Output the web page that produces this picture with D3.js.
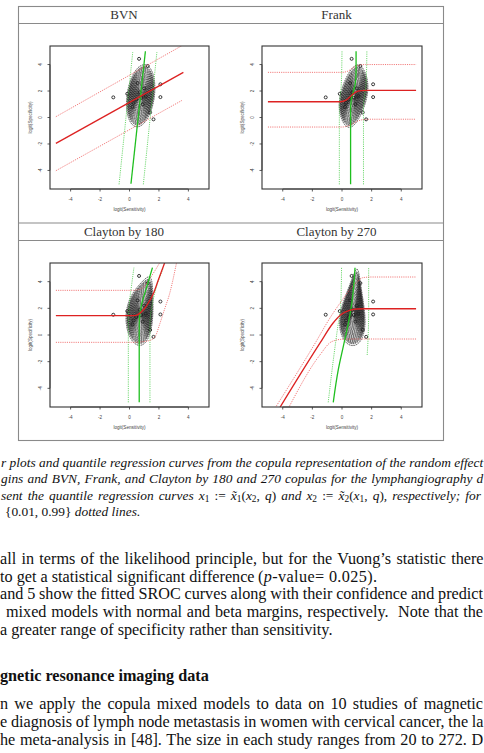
<!DOCTYPE html>
<html><head><meta charset="utf-8">
<script src="https://cdn.jsdelivr.net/npm/d3@7/dist/d3.min.js"></script>
<style>html,body{margin:0;padding:0;background:#fff;}svg{display:block;}</style>
</head><body>
<svg id="page" width="484" height="753"></svg>
<script>
// ================= DATA =================
const panelTitles = ["BVN", "Frank", "Clayton by 180", "Clayton by 270"];
const tickValues = [-4, -2, 0, 2, 4];
const axisRange = [-5.4, 5.4];
const xAxisTitle = "logit(Sensitivity)";
const yAxisTitle = "logit(Specificity)";

// study points (logit sensitivity, logit specificity)
const studyLogitSens = [0.65, 1.24, 2.10, 2.10, -1.10, -0.15, 1.40, 1.63, 0.27, 0.45, 0.70, 0.90, 0.55, 1.00, 0.20, 0.80, 1.10];
const studyLogitSpec = [4.43, 3.89, 2.51, 1.54, 1.52, 1.79, 0.38, -0.14, 1.10, 1.35, 1.90, 1.00, 2.60, 2.20, 0.80, 1.50, 1.60];

// fitted model used for the density contours of each panel
const copulaFamilies = ["normal", "frank", "clayton180", "clayton180"];
const copulaParams   = [0.25, 2.6, 0.45, 0.8];
const copulaTurnDeg  = [0, 0, 15, 35];
const marginMeanSens = [0.75, 0.77, 0.74, 0.74];
const marginMeanSpec = [1.63, 1.60, 1.62, 1.62];
const marginSdSens   = [0.37, 0.37, 0.39, 0.41];
const marginSdSpec   = [0.90, 0.90, 0.90, 0.88];
// contour levels as fractions of the peak density
const contourLevels  = [0.980,0.962,0.937,0.908,0.874,0.835,0.793,0.749,0.703,0.655,0.607,0.558,0.510,0.463,0.418,0.375,0.334,0.296,0.261,0.228,0.198,0.171,0.146,0.125,0.106,0.089,0.074,0.062,0.051,0.034];

// quantile regression curves  [logitSens, logitSpec]
// BVN
const bvnRedMedian = [[-5.0,-1.95],[3.66,3.41]];
const bvnRedLow    = [[-5.0,-4.02],[3.61,1.32]];
const bvnRedHigh   = [[-5.0,0.06],[3.60,5.45]];
const bvnGreenMedian = [[0.10,-5.0],[1.08,5.0]];
const bvnGreenLow    = [[-0.71,-5.05],[0.22,4.93]];
const bvnGreenHigh   = [[0.94,-5.05],[1.86,4.93]];
// Frank
const frankRedMedian = [[-5.0,1.19],[-0.1,1.19],[0.3,1.33],[0.6,1.63],[0.9,1.90],[1.3,2.03],[1.8,2.05],[5.0,2.05]];
const frankRedLow    = [[-5.0,-0.72],[0.0,-0.72],[0.5,-0.60],[1.0,-0.30],[1.5,-0.15],[2.0,-0.13],[5.0,-0.13]];
const frankRedHigh   = [[-5.0,3.41],[0.0,3.41],[0.4,3.50],[0.8,3.80],[1.2,3.97],[1.6,4.00],[5.0,4.00]];
const frankGreenMedian = [[0.58,-5.05],[0.58,0.5],[0.62,1.3],[0.75,1.9],[0.90,2.6],[0.95,3.5],[0.95,5.0]];
const frankGreenLow    = [[-0.18,-5.05],[-0.18,0.8],[-0.05,2.5],[0.0,5.0]];
const frankGreenHigh   = [[1.45,-5.05],[1.45,0.8],[1.62,2.5],[1.68,5.0]];
// Clayton by 180
const c180RedMedian = [[-5.0,1.45],[0.3,1.45],[0.6,1.55],[0.85,1.78],[1.1,2.10],[1.3,2.45],[1.6,3.05],[1.95,4.10],[2.4,5.45]];
const c180RedLow    = [[-5.0,-0.55],[0.4,-0.55],[0.9,-0.50],[1.4,-0.40],[1.75,-0.10],[2.07,0.88],[2.4,2.0],[2.7,3.0],[3.2,5.45]];
const c180RedHigh   = [[-5.0,3.35],[0.2,3.35],[0.6,3.40],[0.95,3.60],[1.2,3.95],[1.6,4.60],[2.07,5.45]];
const c180GreenMedian = [[0.66,-5.05],[0.66,0.8],[0.70,1.5],[0.80,2.2],[0.95,2.8],[1.25,3.9],[1.56,5.05]];
const c180GreenLow    = [[-0.08,-5.05],[-0.08,1.0],[0.0,2.5],[0.15,3.8],[0.30,5.05]];
const c180GreenHigh   = [[1.39,-5.05],[1.39,0.8],[1.50,2.0],[1.80,3.5],[2.30,5.05]];
// Clayton by 270
const c270RedMedian = [[-4.2,-5.45],[-1.5,-0.63],[-0.6,0.90],[-0.1,1.50],[0.5,1.85],[1.0,1.95],[1.5,1.97],[5.0,1.97]];
const c270RedLow    = [[-3.6,-5.45],[-1.5,-1.51],[-0.7,-0.50],[0.0,-0.32],[1.0,-0.30],[5.0,-0.30]];
const c270RedHigh   = [[-4.5,-5.45],[-1.8,-0.59],[-0.8,1.30],[0.0,2.60],[0.6,3.50],[1.0,3.95],[1.4,4.30],[2.0,4.35],[5.0,4.35]];
const c270GreenMedian = [[-0.59,-5.05],[-0.25,-2.6],[0.10,-0.8],[0.45,1.0],[0.65,2.3],[0.80,3.8],[0.88,5.05]];
const c270GreenLow    = [[-0.93,-5.05],[-0.60,-2.0],[-0.30,0.5],[-0.10,2.0],[-0.05,3.5],[-0.03,5.05]];
const c270GreenHigh   = [[1.70,-1.5],[1.77,0.0],[1.80,2.0],[1.80,5.05]];

const redMedians   = [bvnRedMedian, frankRedMedian, c180RedMedian, c270RedMedian];
const redLows      = [bvnRedLow, frankRedLow, c180RedLow, c270RedLow];
const redHighs     = [bvnRedHigh, frankRedHigh, c180RedHigh, c270RedHigh];
const greenMedians = [bvnGreenMedian, frankGreenMedian, c180GreenMedian, c270GreenMedian];
const greenLows    = [bvnGreenLow, frankGreenLow, c180GreenLow, c270GreenLow];
const greenHighs   = [bvnGreenHigh, frankGreenHigh, c180GreenHigh, c270GreenHigh];

// ================= LAYOUT =================
const W = 484, H = 753;
const svg = d3.select("#page");
svg.append("rect").attr("width", W).attr("height", H).attr("fill", "#fff");

const frameL = 18.5, frameR = 443.5, frameT = 6.5, frameB = 440.5;
const colBox = [[50, 209], [262, 422]];
const rowBox = [[46, 189], [263, 407]];
const rowTitleBase = [18.6, 235.6];
const colCenter = [124, 336.5];

const frame = svg.append("g").attr("stroke", "#8a8a8a").attr("stroke-width", 1.1).attr("fill", "none");
frame.append("rect").attr("x", frameL).attr("y", frameT).attr("width", frameR - frameL).attr("height", frameB - frameT);
[23.5, 223, 240.5].forEach(y => frame.append("line").attr("x1", frameL).attr("x2", frameR).attr("y1", y).attr("y2", y));

// ---------- density helpers ----------
function erfc(x) {
  const t = 1 / (1 + 0.3275911 * x);
  return t * (0.254829592 + t * (-0.284496736 + t * (1.421413741 + t * (-1.453152027 + t * 1.061405429)))) * Math.exp(-x * x);
}
function Phi(z) { return z < 0 ? 0.5 * erfc(-z / Math.SQRT2) : 1 - 0.5 * erfc(z / Math.SQRT2); }
function phi(z) { return Math.exp(-z * z / 2); }
const clampU = u => Math.min(1 - 1e-12, Math.max(1e-12, u));
function claytonDens(a, b, th) {
  a = clampU(a); b = clampU(b);
  return (1 + th) * Math.pow(a * b, -th - 1) * Math.pow(Math.pow(a, -th) + Math.pow(b, -th) - 1, -2 - 1 / th);
}
function copulaDensity(fam, th, z1, z2) {
  if (fam === "normal") {
    const r = th;
    return Math.exp(-(r * r * (z1 * z1 + z2 * z2) - 2 * r * z1 * z2) / (2 * (1 - r * r))) / Math.sqrt(1 - r * r);
  }
  if (fam === "frank") {
    const u = Phi(z1), v = Phi(z2);
    const e = 1 - Math.exp(-th);
    const den = e - (1 - Math.exp(-th * u)) * (1 - Math.exp(-th * v));
    return th * e * Math.exp(-th * (u + v)) / (den * den);
  }
  if (fam === "clayton180") return claytonDens(Phi(-z1), Phi(-z2), th);
  return 1;
}

const gx0 = -2.2, gy0 = -3.8, gStep = 0.02, gnx = 310, gny = 570;

for (let p = 0; p < 4; p++) {
  const col = p % 2, row = Math.floor(p / 2);
  const [bx0, bx1] = colBox[col], [by0, by1] = rowBox[row];
  const xs = d3.scaleLinear().domain(axisRange).range([bx0, bx1]);
  const ys = d3.scaleLinear().domain(axisRange).range([by1, by0]);
  const g = svg.append("g");

  g.append("text").attr("x", colCenter[col]).attr("y", rowTitleBase[row])
    .attr("text-anchor", "middle").attr("font-family", "Liberation Serif").attr("font-size", 13)
    .attr("fill", "#333").text(panelTitles[p]);

  const clipId = "clip" + p;
  g.append("clipPath").attr("id", clipId).append("rect")
    .attr("x", bx0).attr("y", by0).attr("width", bx1 - bx0).attr("height", by1 - by0);
  const inner = g.append("g").attr("clip-path", `url(#${clipId})`);

  // density contours
  const values = new Float64Array(gnx * gny);
  const ang = copulaTurnDeg[p] * Math.PI / 180, ca = Math.cos(ang), sa = Math.sin(ang);
  let vmax = 0;
  for (let j = 0; j < gny; j++) {
    for (let i = 0; i < gnx; i++) {
      const x = gx0 + i * gStep, y = gy0 + j * gStep;
      const s1 = (x - marginMeanSens[p]) / marginSdSens[p];
      const s2 = (y - marginMeanSpec[p]) / marginSdSpec[p];
      const z1 = ca * s1 + sa * s2, z2 = -sa * s1 + ca * s2;
      let v = copulaDensity(copulaFamilies[p], copulaParams[p], z1, z2) * phi(z1) * phi(z2);
      if (!isFinite(v)) v = 0;
      values[i + j * gnx] = v;
      if (v > vmax) vmax = v;
    }
  }
  const conts = d3.contours().size([gnx, gny]).thresholds(contourLevels.map(l => l * vmax))(values);
  const proj = d3.geoTransform({ point: function (x, y) { this.stream.point(xs(gx0 + x * gStep), ys(gy0 + y * gStep)); } });
  const gp = d3.geoPath(proj);
  inner.append("g").selectAll("path").data(conts).join("path")
    .attr("d", gp).attr("fill", "none").attr("stroke", "#000")
    .attr("stroke-width", 0.7).attr("stroke-dasharray", "1.6,0.7");

  // study points
  inner.append("g").selectAll("circle").data(studyLogitSens.map((d, i) => [d, studyLogitSpec[i]])).join("circle")
    .attr("cx", d => xs(d[0])).attr("cy", d => ys(d[1])).attr("r", 1.5)
    .attr("fill", "none").attr("stroke", "#222").attr("stroke-width", 0.9);

  // quantile regression curves
  const lx = d3.line().x(d => xs(d[0])).y(d => ys(d[1])).curve(d3.curveMonotoneX);
  const ly = d3.line().x(d => xs(d[0])).y(d => ys(d[1])).curve(d3.curveMonotoneY);
  const dotted = "1.1,1.1";
  [greenLows[p], greenHighs[p]].forEach(c => inner.append("path").attr("d", ly(c)).attr("fill", "none")
    .attr("stroke", "#44cc44").attr("stroke-width", 0.8).attr("stroke-dasharray", dotted));
  [redLows[p], redHighs[p]].forEach(c => inner.append("path").attr("d", lx(c)).attr("fill", "none")
    .attr("stroke", "#ee5555").attr("stroke-width", 0.8).attr("stroke-dasharray", dotted));
  inner.append("path").attr("d", ly(greenMedians[p])).attr("fill", "none").attr("stroke", "#1fbf1f").attr("stroke-width", 1.3);
  inner.append("path").attr("d", lx(redMedians[p])).attr("fill", "none").attr("stroke", "#dd2222").attr("stroke-width", 1.3);

  // box
  g.append("rect").attr("x", bx0).attr("y", by0).attr("width", bx1 - bx0).attr("height", by1 - by0)
    .attr("fill", "none").attr("stroke", "#333").attr("stroke-width", 1.1);

  // axes (R style)
  const ax = g.append("g").attr("stroke", "#333").attr("stroke-width", 0.8);
  ax.append("line").attr("x1", xs(tickValues[0])).attr("x2", xs(tickValues[tickValues.length - 1])).attr("y1", by1).attr("y2", by1);
  ax.selectAll(".xt").data(tickValues).join("line").attr("x1", d => xs(d)).attr("x2", d => xs(d)).attr("y1", by1).attr("y2", by1 + 2.5);
  ax.append("line").attr("y1", ys(tickValues[0])).attr("y2", ys(tickValues[tickValues.length - 1])).attr("x1", bx0).attr("x2", bx0);
  ax.selectAll(".yt").data(tickValues).join("line").attr("y1", d => ys(d)).attr("y2", d => ys(d)).attr("x1", bx0).attr("x2", bx0 - 2.5);

  const tf = { "font-family": "Liberation Sans", "font-size": 4.6, "fill": "#444" };
  const setF = s => { Object.entries(tf).forEach(([k, v]) => s.attr(k, v)); return s; };
  setF(g.append("g").selectAll("text").data(tickValues).join("text")
    .attr("x", d => xs(d)).attr("y", by1 + 11.5).attr("text-anchor", "middle").text(d => d));
  setF(g.append("g").selectAll("text").data(tickValues).join("text")
    .attr("transform", d => `translate(${bx0 - 8.5},${ys(d)}) rotate(-90)`).attr("text-anchor", "middle").text(d => d));
  setF(g.append("text").attr("x", (bx0 + bx1) / 2).attr("y", by1 + 21.5).attr("text-anchor", "middle").text(xAxisTitle));
  setF(g.append("text").attr("transform", `translate(${bx0 - 18.5},${(by0 + by1) / 2}) rotate(-90)`).attr("text-anchor", "middle").text(yAxisTitle));
}

// ================= CAPTION & BODY TEXT =================
function rich(x, y, size, segs, base) {
  const t = svg.append("text").attr("x", x).attr("y", y).attr("font-family", "Liberation Serif")
    .attr("font-size", size).attr("fill", "#111").attr("xml:space", "preserve");
  if (base === "i") t.attr("font-style", "italic");
  if (base === "b") t.attr("font-weight", "bold");
  let off = 0;
  segs.forEach(([str, st]) => {
    const ts = t.append("tspan").text(str);
    let target = 0;
    if (st && st.includes("r")) ts.attr("font-style", "normal");
    if (st && st.includes("i")) ts.attr("font-style", "italic");
    if (st && st.includes("s")) { ts.attr("font-size", size * 0.7); target = size * 0.22; }
    if (target !== off) { ts.attr("dy", target - off); off = target; }
  });
  return t;
}
// justified line: widen the word gaps until the line's right edge reaches endX
function justify(t, endX) {
  const n = (t.node().textContent.match(/ /g) || []).length;
  if (!n) return t;
  let ws = 0;
  for (let k = 0; k < 4; k++) {
    const b = t.node().getBBox();
    ws += (endX - (b.x + b.width)) / n;
    t.attr("word-spacing", ws.toFixed(3));
  }
  return t;
}
const capSize = 13.4, bodySize = 16.2;
justify(rich(1, 466.5, capSize, [["r plots and quantile regression curves from the copula representation of the random effect"]], "i"), 483.5);
justify(rich(1, 483, capSize, [["gins and BVN, Frank, and Clayton by 180 and 270 copulas for the lymphangiography d"]], "i"), 483.5);
justify(rich(1, 499.5, capSize, [
  ["sent the quantile regression curves "], ["x"], ["1", "rs"], [" := ", "r"], ["x\u0303"], ["1", "rs"], ["(", "r"], ["x"], ["2", "rs"],
  [", ", "r"], ["q"], [")", "r"], [" and "], ["x"], ["2", "rs"], [" := ", "r"], ["x\u0303"], ["2", "rs"], ["(", "r"], ["x"], ["1", "rs"],
  [", ", "r"], ["q"], [")", "r"], [", respectively; for"]], "i"), 481.7);
rich(5, 515.5, capSize, [["{0.01, 0.99}", "r"], [" dotted lines."]], "i");

justify(rich(0, 564, bodySize, [["all in terms of the likelihood principle, but for the Vuong\u2019s statistic there"]]), 483.5);
rich(0, 581.7, bodySize, [["to get a statistical significant difference"]]);
rich(258, 581.7, bodySize, [["("], ["p", "i"], ["-value= 0.025)."]])
  .attr("textLength", 119).attr("lengthAdjust", "spacing");
justify(rich(0, 599.3, bodySize, [["and 5 show the fitted SROC curves along with their confidence and predict"]]), 483.5);
justify(rich(6, 617.3, bodySize, [["mixed models with normal and beta margins, respectively.  Note that the"]]), 483);
rich(0, 635.3, bodySize, [["a greater range of specificity rather than sensitivity."]]);
rich(0, 680.7, bodySize, [["gnetic resonance imaging data"]], "b");
justify(rich(0, 709.3, bodySize, [["n we apply the copula mixed models to data on 10 studies of magnetic"]]), 483);
justify(rich(0, 726.7, bodySize, [["e diagnosis of lymph node metastasis in women with cervical cancer, the la"]]), 483.5);
justify(rich(0, 745, bodySize, [["he meta-analysis in [48]. The size in each study ranges from 20 to 272. D"]]), 483.5);
</script>
</body></html>
